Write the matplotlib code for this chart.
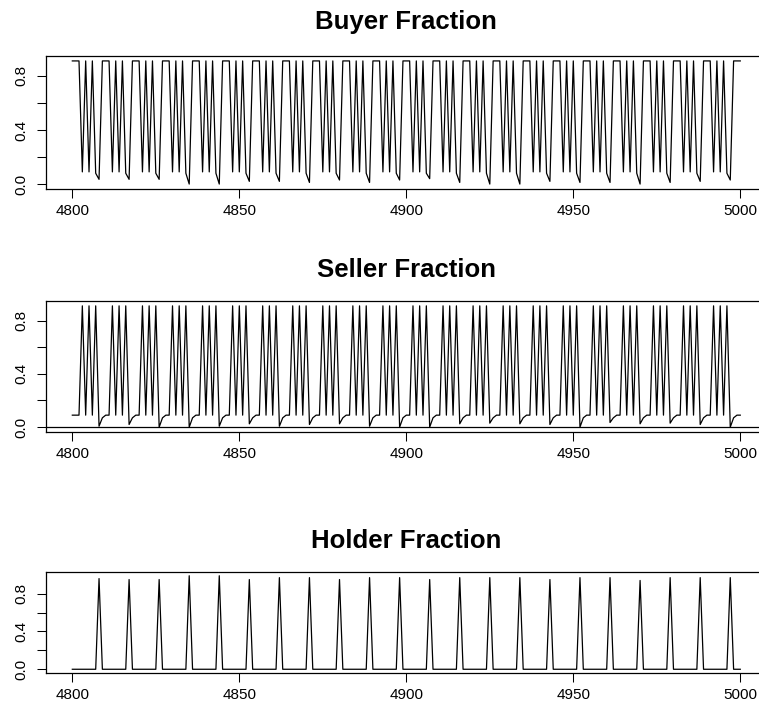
import numpy as np
import matplotlib
matplotlib.use("Agg")
import matplotlib.pyplot as plt

plt.rcParams['font.family'] = ['Liberation Sans', 'DejaVu Sans']

# time steps 4800..5000
t = np.arange(4800, 5001)

# buyer fraction, first 3 points then one 9-step cycle per line
buyer = [0.91, 0.91, 0.91,
         0.09, 0.91, 0.09, 0.91, 0.08, 0.035, 0.91, 0.91, 0.91,
         0.09, 0.91, 0.09, 0.91, 0.08, 0.035, 0.91, 0.91, 0.91,
         0.09, 0.91, 0.09, 0.91, 0.08, 0.035, 0.91, 0.91, 0.91,
         0.09, 0.91, 0.09, 0.91, 0.08, 0.0, 0.91, 0.91, 0.91,
         0.09, 0.91, 0.09, 0.91, 0.08, 0.0, 0.91, 0.91, 0.91,
         0.09, 0.91, 0.09, 0.91, 0.08, 0.02, 0.91, 0.91, 0.91,
         0.09, 0.91, 0.09, 0.91, 0.08, 0.02, 0.91, 0.91, 0.91,
         0.09, 0.91, 0.09, 0.91, 0.08, 0.012, 0.91, 0.91, 0.91,
         0.09, 0.91, 0.09, 0.91, 0.08, 0.03, 0.91, 0.91, 0.91,
         0.09, 0.91, 0.09, 0.91, 0.08, 0.012, 0.91, 0.91, 0.91,
         0.09, 0.91, 0.09, 0.91, 0.08, 0.03, 0.91, 0.91, 0.91,
         0.09, 0.91, 0.09, 0.91, 0.08, 0.04, 0.91, 0.91, 0.91,
         0.09, 0.91, 0.09, 0.91, 0.08, 0.012, 0.91, 0.91, 0.91,
         0.09, 0.91, 0.09, 0.91, 0.08, 0.0, 0.91, 0.91, 0.91,
         0.09, 0.91, 0.09, 0.91, 0.08, 0.0, 0.91, 0.91, 0.91,
         0.09, 0.91, 0.09, 0.91, 0.08, 0.02, 0.91, 0.91, 0.91,
         0.09, 0.91, 0.09, 0.91, 0.08, 0.012, 0.91, 0.91, 0.91,
         0.09, 0.91, 0.09, 0.91, 0.08, 0.012, 0.91, 0.91, 0.91,
         0.09, 0.91, 0.09, 0.91, 0.08, 0.0, 0.91, 0.91, 0.91,
         0.09, 0.91, 0.09, 0.91, 0.08, 0.012, 0.91, 0.91, 0.91,
         0.09, 0.91, 0.09, 0.91, 0.08, 0.02, 0.91, 0.91, 0.91,
         0.09, 0.91, 0.09, 0.91, 0.08, 0.03, 0.91, 0.91, 0.91]

seller = [0.09, 0.09, 0.09,
          0.91, 0.09, 0.91, 0.09, 0.91, 0.007, 0.07, 0.09, 0.09,
          0.91, 0.09, 0.91, 0.09, 0.91, 0.02, 0.07, 0.09, 0.09,
          0.91, 0.09, 0.91, 0.09, 0.91, 0.0, 0.07, 0.09, 0.09,
          0.91, 0.09, 0.91, 0.09, 0.91, 0.0, 0.07, 0.09, 0.09,
          0.91, 0.09, 0.91, 0.09, 0.91, 0.007, 0.07, 0.09, 0.09,
          0.91, 0.09, 0.91, 0.09, 0.91, 0.025, 0.07, 0.09, 0.09,
          0.91, 0.09, 0.91, 0.09, 0.91, 0.007, 0.07, 0.09, 0.09,
          0.91, 0.09, 0.91, 0.09, 0.91, 0.02, 0.07, 0.09, 0.09,
          0.91, 0.09, 0.91, 0.09, 0.91, 0.025, 0.07, 0.09, 0.09,
          0.91, 0.09, 0.91, 0.09, 0.91, 0.007, 0.07, 0.09, 0.09,
          0.91, 0.09, 0.91, 0.09, 0.91, 0.0, 0.07, 0.09, 0.09,
          0.91, 0.09, 0.91, 0.09, 0.91, 0.0, 0.07, 0.09, 0.09,
          0.91, 0.09, 0.91, 0.09, 0.91, 0.025, 0.07, 0.09, 0.09,
          0.91, 0.09, 0.91, 0.09, 0.91, 0.03, 0.07, 0.09, 0.09,
          0.91, 0.09, 0.91, 0.09, 0.91, 0.025, 0.07, 0.09, 0.09,
          0.91, 0.09, 0.91, 0.09, 0.91, 0.02, 0.07, 0.09, 0.09,
          0.91, 0.09, 0.91, 0.09, 0.91, 0.0, 0.07, 0.09, 0.09,
          0.91, 0.09, 0.91, 0.09, 0.91, 0.035, 0.07, 0.09, 0.09,
          0.91, 0.09, 0.91, 0.09, 0.91, 0.025, 0.07, 0.09, 0.09,
          0.91, 0.09, 0.91, 0.09, 0.91, 0.03, 0.07, 0.09, 0.09,
          0.91, 0.09, 0.91, 0.09, 0.91, 0.02, 0.07, 0.09, 0.09,
          0.91, 0.09, 0.91, 0.09, 0.91, 0.0, 0.07, 0.09, 0.09]

holder = [0, 0, 0,
          0, 0, 0, 0, 0, 0.96, 0, 0, 0,
          0, 0, 0, 0, 0, 0.95, 0, 0, 0,
          0, 0, 0, 0, 0, 0.95, 0, 0, 0,
          0, 0, 0, 0, 0, 0.99, 0, 0, 0,
          0, 0, 0, 0, 0, 0.99, 0, 0, 0,
          0, 0, 0, 0, 0, 0.95, 0, 0, 0,
          0, 0, 0, 0, 0, 0.97, 0, 0, 0,
          0, 0, 0, 0, 0, 0.97, 0, 0, 0,
          0, 0, 0, 0, 0, 0.95, 0, 0, 0,
          0, 0, 0, 0, 0, 0.97, 0, 0, 0,
          0, 0, 0, 0, 0, 0.97, 0, 0, 0,
          0, 0, 0, 0, 0, 0.95, 0, 0, 0,
          0, 0, 0, 0, 0, 0.97, 0, 0, 0,
          0, 0, 0, 0, 0, 0.97, 0, 0, 0,
          0, 0, 0, 0, 0, 0.97, 0, 0, 0,
          0, 0, 0, 0, 0, 0.95, 0, 0, 0,
          0, 0, 0, 0, 0, 0.97, 0, 0, 0,
          0, 0, 0, 0, 0, 0.97, 0, 0, 0,
          0, 0, 0, 0, 0, 0.94, 0, 0, 0,
          0, 0, 0, 0, 0, 0.97, 0, 0, 0,
          0, 0, 0, 0, 0, 0.97, 0, 0, 0,
          0, 0, 0, 0, 0, 0.97, 0, 0, 0]

titles = ['Buyer Fraction', 'Seller Fraction', 'Holder Fraction']
xticks = [4800, 4850, 4900, 4950, 5000]
yticks = [0.0, 0.2, 0.4, 0.6, 0.8]
ylabels = ['0.0', '', '0.4', '', '0.8']

W, H = 759, 704
fig = plt.figure(figsize=(W / 100, H / 100), dpi=100)

# box (top, bottom) in pixels, title centre y in pixels
boxes = [(56, 189, 22), (301, 432, 270), (572, 673, 541)]
left, right = 45.6, 767

for i, (series, (top, bot, ty)) in enumerate(zip([buyer, seller, holder], boxes)):
    ax = fig.add_axes([left / W, 1 - bot / H, (right - left) / W, (bot - top) / H])
    ax.plot(t, series, color='black', lw=0.9)
    if i == 1:
        ax.axhline(0, color='black', lw=0.9)
    ymax = max(series)
    ax.set_xlim(4800 - 8, 5000 + 8)
    ax.set_ylim(-0.04 * ymax, ymax * 1.04)
    ax.set_xticks(xticks)
    ax.set_xticklabels([str(v) for v in xticks])
    ax.set_yticks(yticks)
    ax.set_yticklabels(ylabels, rotation=90, va='center')
    ax.tick_params(direction='out', length=6.5, width=0.75, labelsize=11, colors='black')
    ax.tick_params(axis='x', pad=4.5)
    ax.tick_params(axis='y', pad=6)
    for s in ax.spines.values():
        s.set_linewidth(0.9)
    fig.text((left + right) / 2 / W, 1 - ty / H, titles[i], ha='center', va='center',
             fontsize=18.5, fontweight='bold')

fig.savefig('out.png', dpi=100)
